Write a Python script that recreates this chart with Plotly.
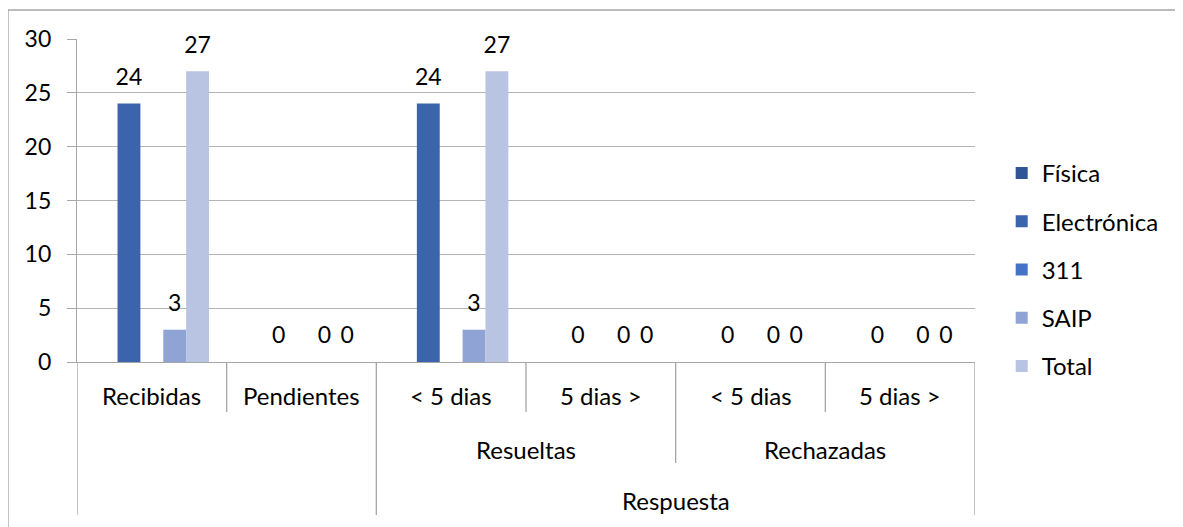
import plotly.graph_objects as go

# ---- data ----
level1 = ["Recibidas", "Pendientes", "< 5 dias", "5 dias >", "< 5 dias", "5 dias >"]
level2 = ["", "", "Resueltas", "Resueltas", "Rechazadas", "Rechazadas"]
level3 = ["", "", "Respuesta", "Respuesta", "Respuesta", "Respuesta"]

series_names = ["Física", "Electrónica", "311", "SAIP", "Total"]
fisica = [None, None, None, None, None, None]
electronica = [24, 0, 24, 0, 0, 0]
linea_311 = [None, None, None, None, None, None]
saip = [3, 0, 3, 0, 0, 0]
total = [27, 0, 27, 0, 0, 0]
series_values = [fisica, electronica, linea_311, saip, total]
series_colors = ["#2F5597", "#3C64AD", "#4472C4", "#8FA3D5", "#B9C3E2"]

y_ticks = [0, 5, 10, 15, 20, 25, 30]

# ---- layout geometry (page pixels; page body has an 8px margin) ----
OFF = 8
W, H = 1183 - OFF, 527 - OFF
plot_left, plot_right = 77 - OFF, 975.3 - OFF
plot_top, plot_bottom = 39 - OFF, 362 - OFF
plot_h = plot_bottom - plot_top
plot_w = plot_right - plot_left
row_edges_px = [p - OFF for p in (362, 412, 463, 515)]
row_text_px = [p - OFF for p in (396, 449, 500)]
FONT = "Lato"
FS = 24
FS_NUM = 23
GRID = "#B4B4B4"
LINE = "#A6A6A6"
BARGAP = 0.236

def py(p):
    return (plot_bottom - p) / plot_h

def px(p):
    return (p - plot_left) / plot_w

keys = [" / ".join([a, b, c]) for a, b, c in zip(level3, level2, level1)]

fig = go.Figure()
for name, vals, col in zip(series_names, series_values, series_colors):
    fig.add_trace(go.Bar(
        x=keys, y=vals, name=name, marker_color=col, marker_line_width=0,
        legendgroup=name, offsetgroup=name, hoverinfo="x+y+name",
    ))
# data labels, grouped to sit over their bars
for name, vals in zip(series_names, series_values):
    fig.add_trace(go.Scatter(
        x=keys, y=vals, mode="markers+text", name=name,
        text=[("" if v is None else str(v)) for v in vals],
        textposition="top center", cliponaxis=False,
        textfont=dict(family=FONT, size=FS_NUM, color="#000000"),
        marker=dict(size=19, opacity=0), showlegend=False,
        legendgroup=name, offsetgroup=name, hoverinfo="skip",
    ))

annotations = []
shapes = []
levels = [level1, level2, level3]
n = len(level1)

# category labels (all levels)
for li, lab in enumerate(levels):
    i = 0
    while i < n:
        j = i
        while j + 1 < n and lab[j + 1] == lab[i] and li > 0:
            j += 1
        if lab[i]:
            annotations.append(dict(
                x=(i + j) / 2, xref="x", y=py(row_text_px[li]), yref="paper",
                text=lab[i], showarrow=False, xanchor="center", yanchor="middle",
                font=dict(family=FONT, size=FS, color="#000000")))
        i = j + 1

# divider lines
for b in range(n + 1):
    if b == 0 or b == n:
        depth = 3
    else:
        depth = 1
        for li in (1, 2):
            if levels[li][b - 1] != levels[li][b]:
                depth = li + 1
            else:
                break
    shapes.append(dict(type="line", xref="x", yref="paper",
                       x0=b - 0.5, x1=b - 0.5,
                       y0=py(row_edges_px[0]), y1=py(row_edges_px[depth]),
                       line=dict(color=LINE, width=1.3)))

# chart border (cropped at right/bottom in reference)
shapes.append(dict(type="rect", xref="paper", yref="paper",
                   x0=px(8 - OFF), x1=px(1300), y0=py(600), y1=py(10 - OFF),
                   line=dict(color=LINE, width=1.3), fillcolor="rgba(0,0,0,0)",
                   layer="below"))

fig.update_layout(
    width=W, height=H,
    margin=dict(l=plot_left, r=W - plot_right, t=plot_top, b=H - plot_bottom, pad=0),
    paper_bgcolor="white", plot_bgcolor="white",
    barmode="group", bargap=BARGAP, bargroupgap=0,
    scattermode="group", scattergap=BARGAP,
    font=dict(family=FONT, size=FS, color="#000000"),
    showlegend=True,
    legend=dict(x=px(1002 - OFF), xanchor="left", y=py(151 - OFF), yanchor="top",
                font=dict(family=FONT, size=FS, color="#000000"),
                traceorder="grouped", tracegroupgap=14,
                bgcolor="rgba(0,0,0,0)", itemwidth=30),
    annotations=annotations, shapes=shapes,
)
fig.update_xaxes(type="category", showticklabels=False, showgrid=False,
                 showline=True, linecolor=LINE, linewidth=1.3, ticks="",
                 zeroline=False, range=[-0.5, n - 0.5])
fig.update_yaxes(range=[0, 30], tickvals=y_ticks, showgrid=True, gridcolor=GRID,
                 gridwidth=1.3, showline=True, linecolor=LINE, linewidth=1.3,
                 ticks="outside", ticklen=9, tickcolor=LINE, tickwidth=1.3,
                 zeroline=False, ticklabelstandoff=11,
                 tickfont=dict(family=FONT, size=FS_NUM, color="#000000"))

fig.write_html("out.html")
